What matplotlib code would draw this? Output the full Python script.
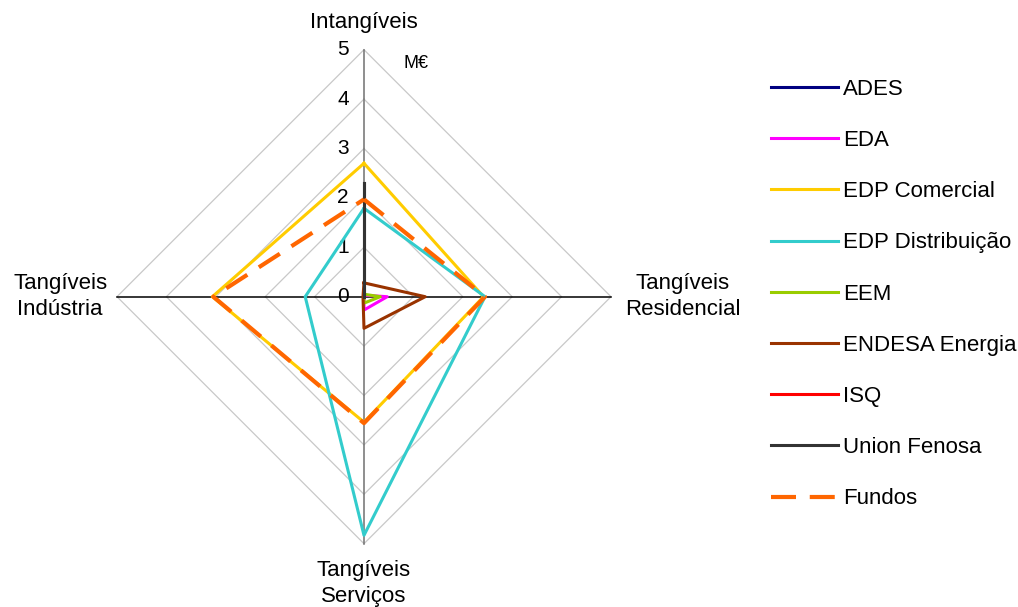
import numpy as np
import matplotlib.pyplot as plt

plt.rcParams['font.family'] = ['Liberation Sans', 'DejaVu Sans']

# categories, clockwise from the top
categories = ["Intangíveis", "Tangíveis\nResidencial", "Tangíveis\nServiços", "Tangíveis\nIndústria"]
ticks = [0, 1, 2, 3, 4, 5]

ades = [0.0, 0.0, 0.0, 0.0]
eda = [0.03, 0.47, 0.27, 0.0]
edp_comercial = [2.70, 2.42, 2.54, 3.07]
edp_distribuicao = [1.79, 2.45, 4.83, 1.19]
eem = [0.05, 0.33, 0.13, 0.0]
endesa = [0.28, 1.24, 0.64, 0.02]
isq = [0.0, 0.0, 0.0, 0.0]
union_fenosa = [2.30, 0.0, 0.0, 0.0]
fundos = [1.97, 2.45, 2.56, 3.05]

series = [
    ("ADES", ades, "#000080", "-"),
    ("EDA", eda, "#FF00FF", "-"),
    ("EDP Comercial", edp_comercial, "#FFCC00", "-"),
    ("EDP Distribuição", edp_distribuicao, "#33CCCC", "-"),
    ("EEM", eem, "#99CC00", "-"),
    ("ENDESA Energia", endesa, "#993300", "-"),
    ("ISQ", isq, "#FF0000", "-"),
    ("Union Fenosa", union_fenosa, "#333333", "-"),
    ("Fundos", fundos, "#FF6600", "--"),
]

ang = np.pi / 2 - np.arange(len(categories)) * 2 * np.pi / len(categories)
cx, cy = np.cos(ang), np.sin(ang)


def to_xy(vals):
    v = np.asarray(vals, dtype=float)
    x = np.append(v * cx, v[0] * cx[0])
    y = np.append(v * cy, v[0] * cy[0])
    return x, y


fig = plt.figure(figsize=(10.18, 6.07), dpi=100)
L = 6.0
ax = fig.add_axes([0.0664, 0.0229, 0.5823, 0.9766])
ax.set_xlim(-L, L)
ax.set_ylim(-L, L)
ax.set_aspect('equal')
ax.axis('off')

# grid diamonds
for t in ticks[1:]:
    gx, gy = to_xy([t] * len(categories))
    ax.plot(gx, gy, color="#C8C8C8", lw=0.9, zorder=1)
# spokes
ax.plot([-5, 5], [0, 0], color="black", lw=1.1, zorder=2)
ax.plot([0, 0], [-5, 5], color="#707070", lw=1.1, zorder=2)

for t in ticks:
    ax.text(-0.42, t, str(t), ha='center', va='center', fontsize=15)
ax.text(1.05, 4.72, "M€", ha='center', va='center', fontsize=13)

lab_r = [5.55, 6.45, 5.8, 6.15]
for i, c in enumerate(categories):
    ax.text(lab_r[i] * cx[i], lab_r[i] * cy[i], c, ha='center', va='center',
            fontsize=16, linespacing=1.3, clip_on=False)

handles = []
for name, vals, col, ls in series:
    x, y = to_xy(vals)
    if ls == "--":
        ln, = ax.plot(x, y, color=col, lw=3.0, dashes=(6, 3.3), label=name, zorder=4)
    else:
        ln, = ax.plot(x, y, color=col, lw=2.2, label=name, zorder=3)
    handles.append(ln)

fig.legend(handles=handles, loc='upper left', bbox_to_anchor=(0.749, 0.885),
           frameon=False, fontsize=16, handlelength=3.0, handletextpad=0.22,
           labelspacing=1.36, borderaxespad=0)

fig.savefig("out.png", dpi=100)
